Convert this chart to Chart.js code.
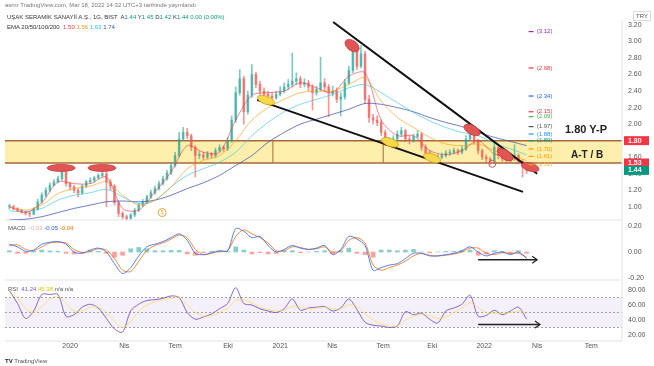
<!DOCTYPE html>
<html>
<head>
<meta charset="utf-8">
<script src="https://cdn.jsdelivr.net/npm/chart.js@4.4.1/dist/chart.umd.min.js"></script>
<style>
    body { margin: 0; background: #fff; font-family: "Liberation Sans", Arial, sans-serif; }
    #wrap { position: relative; width: 654px; height: 366px; overflow: hidden; }
    #myChart { position: absolute; left: 0; top: 0; }
    .t { position: absolute; white-space: nowrap; font-size: 6px; color: #444; line-height: 8px; }
    .big { font-weight: bold; color: #222; }
</style>
</head>
<body>
<div id="wrap">
    <canvas id="myChart" width="654" height="366"></canvas>
    <div class="t" style="left:5px;top:1px;color:#777">asrnr TradingView.com, Mar 18, 2022 14:32 UTC+3 tarihinde yayınlandı</div>
    <div class="t" style="left:7px;top:13px;color:#333">UŞAK SERAMİK SANAYİİ A.Ş., 1G, BIST&nbsp; A<span style="color:#089981">1.44</span> Y<span style="color:#089981">1.45</span> D<span style="color:#089981">1.42</span> K<span style="color:#089981">1.44</span> <span style="color:#089981">0.00 (0.00%)</span></div>
    <div class="t" style="left:7px;top:23px;color:#333">EMA 20/50/100/200&nbsp; <span style="color:#f23645">1.50</span> <span style="color:#ff9800">1.56</span> <span style="color:#26c6da">1.63</span> <span style="color:#3f51b5">1.74</span></div>
    <div class="t" style="left:633px;top:11px;border:1px solid #ddd;padding:0 2px;color:#555">TRY</div>
    <div class="t big" style="left:565px;top:123px;font-size:11px;line-height:13px">1.80 Y-P</div>
    <div class="t big" style="left:571px;top:149px;font-size:10px;line-height:12px">A-T / B</div>
    <div class="t" style="left:8px;top:224px;color:#555">MACD&nbsp; <span style="color:#f7a8a8">-0.01</span> <span style="color:#2962ff">-0.05</span> <span style="color:#ff6d00">-0.04</span></div>
    <div class="t" style="left:8px;top:285px;color:#555">RSI&nbsp; <span style="color:#7e57c2">41.24</span> <span style="color:#e8c400">45.38</span> n/a n/a</div>
    <div class="t" style="left:5px;top:357px;color:#555"><b style="color:#222">TV</b> TradingView</div>
</div>
<script>
// x unit: weeks, week 0 = first week of 2020
let tickWeeks = [0, 13.4, 26, 39.1, 52, 64.9, 77.5, 89.6, 102.5, 115.6, 129];
let tickLabels = ['2020', 'Nis', 'Tem', 'Eki', '2021', 'Nis', 'Tem', 'Eki', '2022', 'Nis', 'Tem'];

let priceTicks = [1.0, 1.2, 1.4, 1.6, 1.8, 2.0, 2.2, 2.4, 2.6, 2.8, 3.0, 3.2];
let macdTicks = [-0.2, 0, 0.2];
let rsiTicks = [20, 40, 60, 80];

// weekly candles, weeks -15 .. 113
let candleWeeks = [];
for (let w = -15; w <= 113; w++) candleWeeks.push(w);

let closes = [1.00,0.98,0.96,0.94,0.92,0.91,0.97,1.06,1.14,1.20,1.26,1.30,1.34,1.42,1.28,1.24,1.20,1.17,1.25,1.30,
    1.32,1.35,1.38,1.40,1.30,1.25,1.05,0.92,0.88,0.86,0.90,0.96,1.02,1.06,1.12,1.17,1.22,1.28,1.34,1.41,
    1.50,1.62,1.82,1.90,1.86,1.72,1.62,1.63,1.60,1.64,1.62,1.68,1.72,1.70,1.80,2.05,2.38,2.55,2.15,2.35,
    2.60,2.48,2.40,2.36,2.34,2.32,2.36,2.40,2.45,2.48,2.52,2.55,2.48,2.50,2.45,2.38,2.42,2.50,2.45,2.38,
    2.40,2.30,2.33,2.50,2.65,2.88,2.70,2.85,2.30,2.08,2.05,2.02,1.90,1.78,1.80,1.82,1.88,1.92,1.82,1.80,
    1.85,1.88,1.72,1.65,1.60,1.58,1.60,1.62,1.65,1.66,1.68,1.66,1.70,1.82,1.92,1.80,1.68,1.60,1.58,1.55,
    1.72,1.62,1.58,1.57,1.60,1.62,1.55,1.48,1.44];
let highs = [1.03,1.02,0.99,0.97,0.95,0.94,0.99,1.09,1.17,1.23,1.29,1.33,1.37,1.45,1.43,1.30,1.26,1.22,1.27,1.32,
    1.35,1.37,1.40,1.45,1.42,1.33,1.27,1.07,0.94,0.90,0.92,0.98,1.04,1.09,1.14,1.20,1.25,1.31,1.37,1.44,
    1.53,1.66,1.90,1.96,1.95,1.88,1.74,1.67,1.66,1.67,1.66,1.71,1.75,1.74,1.84,2.10,2.45,2.66,2.58,2.40,
    2.72,2.63,2.52,2.44,2.40,2.38,2.40,2.45,2.50,2.54,2.86,2.62,2.58,2.55,2.53,2.48,2.46,2.81,2.55,2.48,
    2.46,2.44,2.38,2.54,2.70,3.00,2.92,2.95,2.88,2.35,2.12,2.10,2.05,1.93,1.84,1.86,1.92,1.96,1.94,1.86,
    1.88,1.92,1.90,1.75,1.68,1.63,1.63,1.65,1.68,1.69,1.71,1.70,1.73,1.86,1.98,1.94,1.82,1.70,1.63,1.60,
    1.80,1.74,1.65,1.61,1.64,1.75,1.64,1.57,1.50];
let lows = [0.97,0.96,0.94,0.92,0.90,0.88,0.90,0.96,1.04,1.12,1.18,1.25,1.29,1.32,1.25,1.20,1.17,1.12,1.15,1.23,
    1.28,1.30,1.34,1.36,1.00,1.20,1.02,0.88,0.85,0.84,0.85,0.88,0.94,1.00,1.04,1.10,1.15,1.20,1.26,1.32,
    1.39,1.48,1.60,1.80,1.82,1.68,1.36,1.58,1.57,1.58,1.59,1.60,1.66,1.67,1.68,1.78,2.02,2.35,2.00,2.12,
    2.32,2.44,2.36,2.32,2.30,2.28,2.30,2.34,2.38,2.42,2.45,2.48,2.44,2.45,2.40,2.17,2.35,2.40,2.40,2.09,
    2.34,2.26,2.10,2.30,2.48,2.62,2.66,2.68,2.25,2.02,2.00,1.98,1.86,1.74,1.75,1.78,1.80,1.85,1.79,1.76,
    1.78,1.83,1.68,1.62,1.56,1.55,1.56,1.58,1.60,1.62,1.64,1.63,1.64,1.68,1.80,1.76,1.64,1.57,1.54,1.51,
    1.53,1.58,1.55,1.53,1.55,1.56,1.52,1.36,1.40];

// EMAs sampled every 4 weeks, weeks -15 .. 113
let emaWeeks = [];
for (let w = -15; w <= 113; w += 4) emaWeeks.push(w);
let ema20 = [1.00,0.93,1.05,1.30,1.28,1.28,1.36,0.98,0.96,1.18,1.42,1.74,1.66,1.66,2.05,2.35,2.38,2.40,2.50,2.44,
    2.38,2.58,2.62,2.05,1.86,1.86,1.68,1.63,1.68,1.80,1.64,1.60,1.50];
let ema50 = [1.00,0.96,1.02,1.16,1.22,1.25,1.30,1.14,1.02,1.08,1.24,1.46,1.56,1.62,1.80,2.05,2.20,2.30,2.38,2.40,
    2.40,2.48,2.56,2.28,2.08,1.96,1.84,1.76,1.74,1.76,1.68,1.62,1.56];
let ema100 = [0.95,0.94,0.98,1.08,1.14,1.17,1.21,1.12,1.04,1.08,1.24,1.38,1.46,1.54,1.66,1.86,2.02,2.15,2.24,2.30,
    2.36,2.44,2.48,2.38,2.26,2.14,2.04,1.96,1.90,1.86,1.77,1.70,1.63];
let ema200 = [0.84,0.85,0.88,0.93,0.98,1.02,1.06,1.07,1.06,1.08,1.14,1.22,1.29,1.38,1.50,1.62,1.78,1.90,2.00,2.06,
    2.12,2.18,2.25,2.24,2.20,2.15,2.08,2.02,1.97,1.90,1.84,1.79,1.74];

// MACD and RSI sampled every 2 weeks, weeks -15 .. 113
let oscWeeks = [];
for (let w = -15; w <= 113; w += 2) oscWeeks.push(w);
let macdLine = [0.06,0.04,0.005,0.015,0.06,0.075,0.08,0.06,0.0,-0.01,
    0.015,0.03,0.0,-0.09,-0.165,-0.12,-0.03,0.04,0.06,0.08,
    0.11,0.14,0.09,-0.01,-0.02,-0.005,0.01,0.01,0.18,0.16,
    0.11,0.12,0.05,0.0,0.02,0.05,0.03,0.02,0.03,0.05,
    -0.02,0.02,0.12,0.10,0.05,-0.14,-0.12,-0.10,-0.09,-0.05,
    -0.01,-0.01,-0.03,-0.03,-0.02,-0.01,0.01,0.04,0.0,-0.03,
    -0.01,0.0,-0.02,0.0,-0.05];
let signalLine = [0.05,0.055,0.02,0.01,0.04,0.07,0.075,0.07,0.02,-0.005,
    0.005,0.025,0.015,-0.05,-0.14,-0.15,-0.07,0.01,0.05,0.07,
    0.10,0.13,0.11,0.02,-0.02,-0.01,0.005,0.01,0.12,0.17,
    0.14,0.11,0.07,0.01,0.01,0.04,0.035,0.02,0.025,0.04,
    0.0,0.01,0.09,0.11,0.07,-0.10,-0.14,-0.12,-0.10,-0.07,
    -0.03,-0.01,-0.025,-0.03,-0.025,-0.015,0.0,0.03,0.03,-0.01,
    -0.02,-0.005,-0.01,-0.01,-0.04];
let macdHist = [0.01,-0.01,-0.01,0.005,0.015,0.008,0.005,-0.01,-0.015,-0.005,
    0.01,0.005,-0.01,-0.04,-0.025,0.025,0.035,0.025,0.01,0.01,
    0.012,0.012,-0.015,-0.025,-0.005,0.005,0.005,0.005,0.04,0.015,
    -0.015,-0.005,-0.015,-0.01,0.01,0.01,-0.005,0.0,0.005,0.01,
    -0.015,0.01,0.03,-0.01,-0.02,-0.04,0.015,0.015,0.01,0.015,
    0.02,0.0,-0.005,0.0,0.005,0.005,0.01,0.015,-0.025,-0.015,
    0.01,0.005,-0.01,0.01,-0.01];
let rsiLine = [79,62,42,52,74,74,74,45,47,57, 61,56,42,28,24,52,61,66,67,69,
    72,70,50,41,44,48,55,62,83,62, 60,55,52,50,55,68,53,56,57,58,
    52,56,68,54,37,33,32,30,32,51, 47,49,41,36,52,56,61,73,45,46,
    53,47,52,57,41];
let rsiMa = [75,70,55,50,58,68,72,62,52,52, 57,57,50,38,30,38,52,60,64,67,
    69,70,60,50,45,46,50,56,66,67, 63,57,54,52,53,58,57,55,56,57,
    55,55,60,58,48,40,35,32,32,40, 45,48,46,42,44,50,56,63,56,50,
    49,49,50,52,48];

// drawings
let bandLow = 1.53, bandHigh = 1.80;
let bandSplits = [50.2, 77.5];
let upperTrend = [{x: 65.1, y: 3.236}, {x: 115.6, y: 1.40}];
let lowerTrend = [{x: 46.3, y: 2.293}, {x: 112.1, y: 1.18}];
let macdArrow = [{x: 101, y: -0.06}, {x: 115.6, y: -0.06}];
let rsiArrow = [{x: 101, y: 34}, {x: 116.3, y: 34}];
let fibLevels = [3.12, 2.68, 2.34, 2.15, 2.09, 1.97, 1.88, 1.80, 1.70, 1.61, 1.51];
let fibColors = ['#9c27b0', '#f23645', '#2962ff', '#f23645', '#4caf50', '#555', '#2196f3', '#089981', '#ff9800', '#ff9800', '#f9a825'];
let priceTags = [
    {value: 1.80, text: '1.80', color: '#f23645'},
    {value: 1.53, text: '1.53', color: '#f23645'},
    {value: 1.44, text: '1.44', color: '#089981'}
];
let marks = [
    {x: -2.2, y: 1.47, rx: 14, ry: 3.5, rot: 0, fill: '#e25555', edge: '#c23b3b'},
    {x: 7.9, y: 1.47, rx: 14, ry: 3.5, rot: 0, fill: '#e25555', edge: '#c23b3b'},
    {x: 69.8, y: 2.95, rx: 8, ry: 5, rot: 0.64, fill: '#e25555', edge: '#c23b3b'},
    {x: 99.5, y: 1.93, rx: 9, ry: 4.5, rot: 0.5, fill: '#e25555', edge: '#c23b3b'},
    {x: 107.7, y: 1.63, rx: 9, ry: 4.5, rot: 0.6, fill: '#e25555', edge: '#c23b3b'},
    {x: 113.9, y: 1.48, rx: 9, ry: 4, rot: 0.3, fill: '#e25555', edge: '#c23b3b'},
    {x: 48.5, y: 2.29, rx: 9, ry: 4, rot: 0.35, fill: '#f5d94a', edge: '#d4a017'},
    {x: 79.2, y: 1.78, rx: 9, ry: 4, rot: 0.35, fill: '#f5d94a', edge: '#d4a017'},
    {x: 89.6, y: 1.59, rx: 9, ry: 4, rot: 0.35, fill: '#f5d94a', edge: '#d4a017'}
];

const upColor = 'rgba(38,166,154,0.6)';
const downColor = 'rgba(239,83,80,0.6)';

function xy(xs, ys) {
    return ys.map((v, i) => ({x: xs[i], y: v}));
}

function buildCandles() {
    let wicks = [], bodies = [], colors = [];
    for (let i = 0; i < closes.length; i++) {
        let open = i === 0 ? closes[0] : closes[i - 1];
        wicks.push({x: candleWeeks[i], y: [lows[i], highs[i]]});
        bodies.push({x: candleWeeks[i], y: [open, closes[i]]});
        colors.push(closes[i] >= open ? upColor : downColor);
    }
    return {wicks: wicks, bodies: bodies, colors: colors};
}

function lineSet(data, color, axis, order, width) {
    return {
        type: 'line', data: data, yAxisID: axis, borderColor: color, borderWidth: width || 1,
        pointRadius: 0, tension: 0.3, fill: false, order: order
    };
}

const decor = {
    id: 'decor',
    beforeDatasetsDraw(chart) {
        let {ctx, chartArea: a, scales: {x, y, macd, rsi}} = chart;
        ctx.save();
        // support / resistance band
        let top = y.getPixelForValue(bandHigh), bot = y.getPixelForValue(bandLow);
        ctx.fillStyle = 'rgba(251,235,150,0.8)';
        ctx.fillRect(a.left, top, a.right - a.left, bot - top);
        ctx.strokeStyle = '#a9683a';
        ctx.lineWidth = 1.5;
        ctx.beginPath();
        ctx.moveTo(a.left, top); ctx.lineTo(a.right, top);
        ctx.moveTo(a.left, bot); ctx.lineTo(a.right, bot);
        ctx.stroke();
        ctx.lineWidth = 1;
        bandSplits.forEach(function (w) {
            let px = x.getPixelForValue(w);
            ctx.beginPath(); ctx.moveTo(px, top); ctx.lineTo(px, bot); ctx.stroke();
        });
        // rsi background
        let r70 = rsi.getPixelForValue(70), r30 = rsi.getPixelForValue(30);
        ctx.fillStyle = 'rgba(126,87,194,0.09)';
        ctx.fillRect(a.left, r70, a.right - a.left, r30 - r70);
        ctx.strokeStyle = '#a0a0a8';
        ctx.setLineDash([2, 2]);
        [70, 50, 30].forEach(function (v) {
            let py = rsi.getPixelForValue(v);
            ctx.beginPath(); ctx.moveTo(a.left, py); ctx.lineTo(a.right, py); ctx.stroke();
        });
        ctx.setLineDash([]);
        // pane borders
        ctx.strokeStyle = '#e0e3eb';
        ctx.beginPath();
        ctx.moveTo(a.left, macd.top); ctx.lineTo(a.right, macd.top);
        ctx.moveTo(a.left, rsi.top); ctx.lineTo(a.right, rsi.top);
        ctx.moveTo(a.left, a.bottom); ctx.lineTo(a.right, a.bottom);
        ctx.moveTo(a.right, a.top); ctx.lineTo(a.right, a.bottom);
        ctx.stroke();
        ctx.restore();
    },
    afterDatasetsDraw(chart) {
        let {ctx, scales: {x, y}} = chart;
        ctx.save();
        marks.forEach(function (m) {
            ctx.beginPath();
            ctx.ellipse(x.getPixelForValue(m.x), y.getPixelForValue(m.y), m.rx, m.ry, m.rot, 0, Math.PI * 2);
            ctx.fillStyle = m.fill;
            ctx.fill();
            ctx.strokeStyle = m.edge;
            ctx.lineWidth = 0.8;
            ctx.stroke();
        });
        // small circle on the band floor
        ctx.beginPath();
        ctx.arc(x.getPixelForValue(104.5), y.getPixelForValue(1.52), 3.5, 0, Math.PI * 2);
        ctx.strokeStyle = '#e25555';
        ctx.lineWidth = 1;
        ctx.stroke();
        // wave mark
        let cx = x.getPixelForValue(22.8), cy = y.getPixelForValue(0.93);
        ctx.beginPath();
        ctx.arc(cx, cy, 4, 0, Math.PI * 2);
        ctx.strokeStyle = '#f0a030';
        ctx.stroke();
        ctx.fillStyle = '#f0a030';
        ctx.font = '5px "Liberation Sans"';
        ctx.textAlign = 'center';
        ctx.textBaseline = 'middle';
        ctx.fillText('5', cx, cy + 0.5);
        // arrow heads
        chart.data.datasets.forEach(function (ds, i) {
            if (!ds.arrow) return;
            let pts = chart.getDatasetMeta(i).data;
            let p = pts[pts.length - 1];
            ctx.beginPath();
            ctx.moveTo(p.x - 5, p.y - 3.5); ctx.lineTo(p.x, p.y); ctx.lineTo(p.x - 5, p.y + 3.5);
            ctx.strokeStyle = '#222';
            ctx.lineWidth = 1.2;
            ctx.stroke();
        });
        // level labels
        ctx.font = '6px "Liberation Sans"';
        ctx.textAlign = 'left';
        fibLevels.forEach(function (v, i) {
            let py = y.getPixelForValue(v);
            ctx.strokeStyle = fibColors[i];
            ctx.beginPath();
            ctx.moveTo(x.getPixelForValue(113.5), py); ctx.lineTo(x.getPixelForValue(114.7), py);
            ctx.stroke();
            ctx.fillStyle = fibColors[i];
            ctx.fillText('(' + v.toFixed(2) + ')', x.getPixelForValue(115.5), py);
        });
        ctx.restore();
    },
    afterDraw(chart) {
        let {ctx, chartArea: a, scales: {y}} = chart;
        ctx.save();
        ctx.font = 'bold 7px "Liberation Sans"';
        ctx.textBaseline = 'middle';
        ctx.textAlign = 'left';
        priceTags.forEach(function (t) {
            let py = y.getPixelForValue(t.value);
            ctx.fillStyle = t.color;
            ctx.fillRect(a.right + 2, py - 4.5, 25, 9);
            ctx.fillStyle = '#fff';
            ctx.fillText(t.text, a.right + 6, py);
        });
        ctx.restore();
    }
};

function chartInit() {
    let c = buildCandles();
    let axisTicks = {font: {size: 7, family: 'Liberation Sans'}, color: '#555', padding: 6, autoSkip: false};
    let fitRight = function (ax) { ax.width = 32; };
    let noGrid = {display: false, drawTicks: false};

    let ctx = document.getElementById('myChart').getContext('2d');
    let myChart = new Chart(ctx, {
        type: 'line',
        data: {
            datasets: [
                lineSet(upperTrend, '#111', 'y', 0, 2),
                lineSet(lowerTrend, '#111', 'y', 0, 2),
                Object.assign(lineSet(macdArrow, '#222', 'macd', 0, 1.5), {arrow: true}),
                Object.assign(lineSet(rsiArrow, '#222', 'rsi', 0, 1.5), {arrow: true}),
                lineSet(xy(emaWeeks, ema20), 'rgba(242,54,69,0.6)', 'y', 1),
                lineSet(xy(emaWeeks, ema50), 'rgba(255,152,0,0.6)', 'y', 1),
                lineSet(xy(emaWeeks, ema100), 'rgba(38,198,218,0.6)', 'y', 1),
                lineSet(xy(emaWeeks, ema200), 'rgba(63,81,181,0.75)', 'y', 1),
                {
                    type: 'bar', data: c.bodies, yAxisID: 'y', backgroundColor: c.colors,
                    barThickness: 2, grouped: false, minBarLength: 1, order: 2
                },
                {
                    type: 'bar', data: c.wicks, yAxisID: 'y', backgroundColor: c.colors,
                    barThickness: 1, grouped: false, order: 2
                },
                lineSet(xy(oscWeeks, macdLine), 'rgba(41,98,255,0.8)', 'macd', 1),
                lineSet(xy(oscWeeks, signalLine), 'rgba(255,109,0,0.8)', 'macd', 1),
                {
                    type: 'bar', data: xy(oscWeeks, macdHist), yAxisID: 'macd', barThickness: 4, grouped: false, order: 3,
                    backgroundColor: macdHist.map(v => v >= 0 ? 'rgba(38,166,154,0.55)' : 'rgba(255,82,82,0.55)')
                },
                lineSet(xy(oscWeeks, rsiMa), 'rgba(253,216,53,0.6)', 'rsi', 1),
                lineSet(xy(oscWeeks, rsiLine), 'rgba(126,87,194,0.9)', 'rsi', 1)
            ]
        },
        options: {
            responsive: false,
            animation: false,
            layout: {padding: {left: 5, top: 20, right: 0, bottom: 0}},
            plugins: {legend: {display: false}, tooltip: {enabled: false}},
            scales: {
                x: {
                    type: 'linear', min: -16.1, max: 136.6, offset: false,
                    grid: noGrid, border: {display: false},
                    ticks: {font: {size: 7, family: 'Liberation Sans'}, color: '#555', padding: 1,
                        maxRotation: 0, autoSkip: false, callback: (v, i) => tickLabels[i]},
                    afterBuildTicks: ax => { ax.ticks = tickWeeks.map(v => ({value: v})); },
                    afterFit: ax => { ax.height = 25; }
                },
                y: {
                    type: 'linear', position: 'right', stack: 'panes', stackWeight: 200, min: 0.84, max: 3.26,
                    grid: noGrid, border: {display: false},
                    ticks: Object.assign({callback: v => v.toFixed(2)}, axisTicks),
                    afterBuildTicks: ax => { ax.ticks = priceTicks.map(v => ({value: v})); },
                    afterFit: fitRight
                },
                macd: {
                    type: 'linear', position: 'right', stack: 'panes', stackWeight: 60, min: -0.215, max: 0.246,
                    grid: noGrid, border: {display: false},
                    ticks: Object.assign({callback: v => v.toFixed(2)}, axisTicks),
                    afterBuildTicks: ax => { ax.ticks = macdTicks.map(v => ({value: v})); },
                    afterFit: fitRight
                },
                rsi: {
                    type: 'linear', position: 'right', stack: 'panes', stackWeight: 61, min: 12, max: 93.3,
                    grid: noGrid, border: {display: false},
                    ticks: Object.assign({callback: v => v.toFixed(2)}, axisTicks),
                    afterBuildTicks: ax => { ax.ticks = rsiTicks.map(v => ({value: v})); },
                    afterFit: fitRight
                }
            }
        },
        plugins: [decor]
    });
}

chartInit();
</script>
</body>
</html>
